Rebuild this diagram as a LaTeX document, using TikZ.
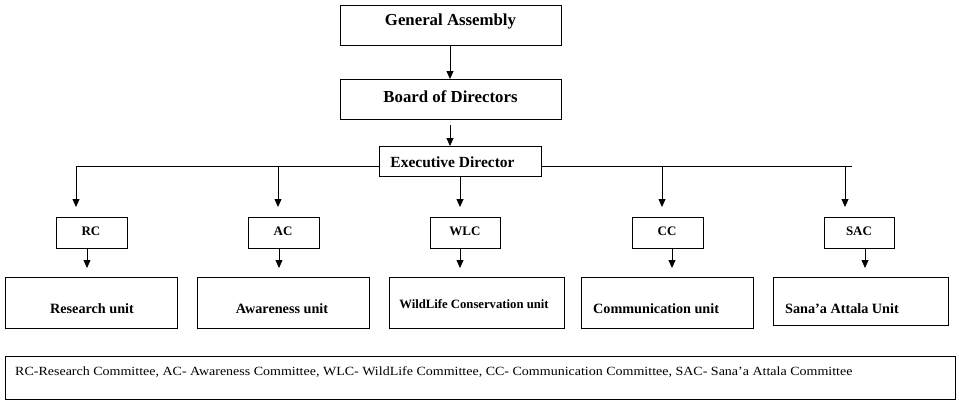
\documentclass[tikz,border=0pt]{standalone}
\usepackage{fontspec}
\setmainfont{Liberation Serif}
\usetikzlibrary{arrows.meta}
\begin{document}
\begin{tikzpicture}[x=1pt,y=-1pt,
  box/.style={draw,line width=0.8pt,inner sep=0pt},
  arr/.style={line width=0.8pt,-{Triangle[width=7pt,length=8pt]}},
  ln/.style={line width=0.8pt},
  lbl/.style={font=\bfseries\fontsize{16.8}{18}\selectfont,anchor=center,inner sep=0pt},
  clbl/.style={font=\bfseries\fontsize{13}{15}\selectfont,anchor=center,inner sep=0pt},
  ulbl/.style={font=\bfseries\fontsize{14.2}{16}\selectfont,inner sep=0pt}]
\useasboundingbox (0,0) rectangle (959,407);
% top boxes
\draw[box] (340,5) rectangle (561,45);
\node[lbl] (ga) at (450.5,21) {General Assembly};
\coordinate (gab) at (450,45);
\draw[box] (340,79) rectangle (561,119);
\node[lbl] (bod) at (450.5,97) {Board of Directors};
\coordinate (bodt) at (450,79);
\coordinate (bodb) at (450,125);
\draw[box] (379,146) rectangle (541,176);
\node[font=\bfseries\fontsize{15.5}{17}\selectfont,inner sep=0pt] (ed) at (452.5,162) {Executive Director};
\coordinate (edt) at (450,146);
\coordinate (edl) at (379,166);
\coordinate (edr) at (541,166);
\coordinate (edb) at (460,176);
\draw[arr] (gab) -- (bodt);
\draw[arr] (bodb) -- (edt);
% horizontal bus
\coordinate (busl) at (76,166);
\coordinate (busr) at (852,166);
\draw[ln] (busl) -- (edl);
\draw[ln] (edr) -- (busr);
% committee boxes
\draw[box] (56,217) rectangle (127,248);
\node[clbl] (rc) at (91,231) {RC};
\draw[box] (248,217) rectangle (319,248);
\node[clbl] (ac) at (283,231) {AC};
\draw[box] (430,217) rectangle (500,248);
\node[clbl] (wlc) at (465,231) {WLC};
\draw[box] (632,217) rectangle (703,248);
\node[clbl] (cc) at (667,231) {CC};
\draw[box] (824,217) rectangle (894,248);
\node[clbl] (sac) at (859,231) {SAC};
% arrows to committees
\coordinate (c1) at (76,207);
\coordinate (c2) at (278,207);
\coordinate (c3) at (460,207);
\coordinate (c4) at (662,207);
\coordinate (c5) at (845,207);
\draw[arr] (busl) -- (c1);
\draw[arr] (278,166) -- (c2);
\draw[arr] (edb) -- (c3);
\draw[arr] (662,166) -- (c4);
\draw[arr] (845,166) -- (c5);
% unit boxes
\draw[box] (5,277) rectangle (177,328);
\node[ulbl] (ru) at (92,309) {Research unit};
\draw[box] (197,277) rectangle (369,328);
\node[ulbl] (au) at (282,309) {Awareness unit};
\draw[box] (389,277) rectangle (564,328);
\node[font=\bfseries\fontsize{12.7}{14}\selectfont,inner sep=0pt] (wu) at (474,304) {WildLife Conservation unit};
\draw[box] (581,277) rectangle (753,328);
\node[ulbl,anchor=west] (cu) at (593,309) {Communication unit};
\draw[box] (773,277) rectangle (948,325);
\node[ulbl,anchor=west] (su) at (785,309) {Sana’a Attala Unit};
% arrows committees -> units
\draw[arr] (87,248) -- (87,268);
\draw[arr] (279,248) -- (279,268);
\draw[arr] (460,248) -- (460,268);
\draw[arr] (672,248) -- (672,268);
\draw[arr] (865,248) -- (865,268);
% legend
\draw[box] (5,356) rectangle (955,399);
\node[anchor=west,inner sep=0pt,font=\fontsize{12.5}{14}\selectfont] (leg) at (15,372) {\scalebox{1.12}[1]{RC-Research Committee, AC- Awareness Committee, WLC- WildLife Committee, CC- Communication Committee, SAC- Sana’a Attala Committee}};
\end{tikzpicture}
\end{document}
